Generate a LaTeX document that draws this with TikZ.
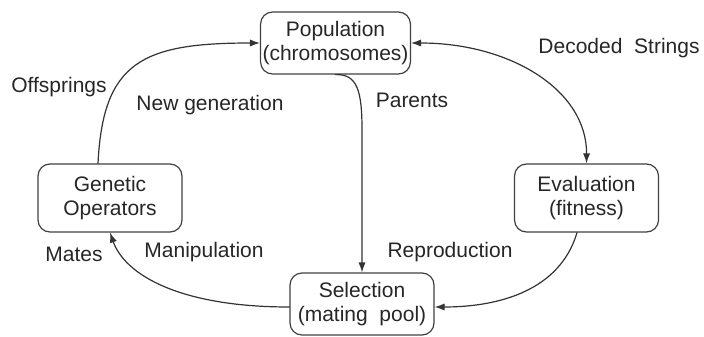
\documentclass[tikz,border=0pt]{standalone}
\usepackage{fontspec}
\setmainfont{Liberation Sans}
\usetikzlibrary{arrows.meta}

\begin{document}
\begin{tikzpicture}[x=0.5pt,y=-0.5pt,font=\fontsize{10.5}{12}\selectfont,line cap=round,line join=round,
  stage/.style={draw=black!75,rounded corners=6pt,align=center,minimum width=72pt,minimum height=31pt,inner sep=1pt,line width=0.6pt,text=black!85},
  flow/.style={draw=black!80,line width=0.6pt,-{Latex[length=5pt,width=3.6pt]}},
  lbl/.style={text=black!85}]
\useasboundingbox (0,0) rectangle (704,336);
% the four stages of the cycle
\node[stage] (pop) at (335.5,43) {Population\\(chromosomes)};
\node[stage,minimum height=34pt] (gen) at (110,198) {Genetic\\Operators};
\node[stage,minimum height=34pt] (eval) at (586.5,198) {Evaluation\\(fitness)};
\node[stage] (sel) at (362,304) {Selection\\(mating~~pool)};
% connectors
\draw[flow] ([xshift=-6pt]gen.north) .. controls (103,62) and (142,43) .. (pop.west);
\draw[flow] (pop.south) .. controls (357,74) and (362,90) .. (362,130) -- (sel.north);
\draw[flow,{Latex[length=5pt,width=3.6pt]}-{Latex[length=5pt,width=3.6pt]}] (pop.east) .. controls (510,43) and (587,90) .. (eval.north);
\draw[flow] ([xshift=-4.75pt]eval.south) .. controls (560,290) and (500,307) .. ([yshift=-1.5pt]sel.east);
\draw[flow] ([yshift=-1.5pt]sel.west) .. controls (180,307) and (125,275) .. (gen.south);
% labels
\node[lbl] (offs) at (59,87) {Offsprings};
\node[lbl] (newgen) at (210,105) {New generation};
\node[lbl] (parents) at (412,100) {Parents};
\node[lbl] (decoded) at (619,48) {Decoded~~Strings};
\node[lbl] (mates) at (74,254) {Mates};
\node[lbl] (manip) at (204,252) {Manipulation};
\node[lbl] (repro) at (450,252) {Reproduction};
\end{tikzpicture}
\end{document}
